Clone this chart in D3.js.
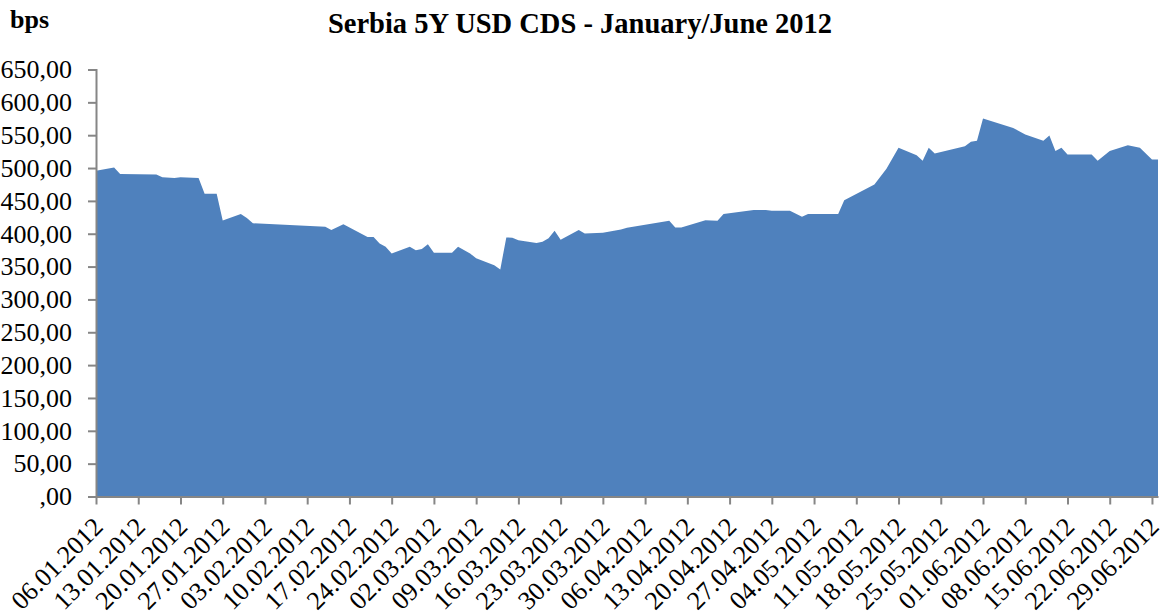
<!DOCTYPE html>
<html>
<head>
<meta charset="utf-8">
<script src="https://cdn.jsdelivr.net/npm/d3@7"></script>
<style>
  body { margin: 0; background: #fff; }
  text { font-family: "Liberation Serif", "Times New Roman", serif; fill: #000; }
</style>
</head>
<body>
<div id="chart"></div>
<script>
//Data (bps)
var dates = ["2012-01-06","2012-01-09","2012-01-10","2012-01-16","2012-01-17","2012-01-19","2012-01-20","2012-01-23","2012-01-24","2012-01-26","2012-01-27","2012-01-30","2012-01-31",
  "2012-02-01","2012-02-13","2012-02-14","2012-02-16","2012-02-20","2012-02-21","2012-02-22","2012-02-23","2012-02-24","2012-02-27","2012-02-28","2012-02-29",
  "2012-03-01","2012-03-02","2012-03-05","2012-03-06","2012-03-08","2012-03-09","2012-03-12","2012-03-13","2012-03-14","2012-03-15","2012-03-16","2012-03-19","2012-03-20","2012-03-21","2012-03-22","2012-03-23","2012-03-26","2012-03-27","2012-03-30",
  "2012-04-02","2012-04-03","2012-04-10","2012-04-11","2012-04-12","2012-04-16","2012-04-18","2012-04-19","2012-04-24","2012-04-26","2012-04-27","2012-04-30",
  "2012-05-02","2012-05-03","2012-05-08","2012-05-09","2012-05-14","2012-05-16","2012-05-18","2012-05-21","2012-05-22","2012-05-23","2012-05-24","2012-05-29","2012-05-30","2012-05-31",
  "2012-06-01","2012-06-06","2012-06-08","2012-06-11","2012-06-12","2012-06-13","2012-06-14","2012-06-15","2012-06-19","2012-06-20","2012-06-22","2012-06-25","2012-06-27","2012-06-29","2012-06-30"];

var values = [496,501,491,490,486,485,486,485,461,461,420,430,424,
  416,410.5,405.5,414.6,395,395,385,380,370,380,375,376.6,
  384,371,371,380,370,362.5,352,345.7,394.4,394,390,386,387.7,393,404.5,391,405.5,400.5,401.5,
  406.6,409,419.7,409.6,409.6,420.7,419.7,430,436,436,435,435,
  425.8,430,430,451,475,499,531,519.6,511,530.7,522,533.3,540,541.4,
  575.5,561,551,541.4,549.6,526,530.7,520.7,520.7,511,526,534.8,530.7,513,513];

//Axis ticks
var yTicks = [0,50,100,150,200,250,300,350,400,450,500,550,600,650];
var xTickLabels = ["06.01.2012","13.01.2012","20.01.2012","27.01.2012","03.02.2012","10.02.2012","17.02.2012","24.02.2012",
  "02.03.2012","09.03.2012","16.03.2012","23.03.2012","30.03.2012","06.04.2012","13.04.2012","20.04.2012","27.04.2012",
  "04.05.2012","11.05.2012","18.05.2012","25.05.2012","01.06.2012","08.06.2012","15.06.2012","22.06.2012","29.06.2012"];

var chartTitle = "Serbia 5Y USD CDS - January/June 2012";
var unitLabel = "bps";

var width = 1164,
    height = 615;
var margin = {top: 69.5, left: 96, right: 6, bottom: 118.5};

var parseDate = d3.timeParse("%Y-%m-%d");
var parseTick = d3.timeParse("%d.%m.%Y");
var fmtTick = d3.timeFormat("%d.%m.%Y");

var data = dates.map(function(d, i) { return {date: parseDate(d), value: values[i]}; });

var svg = d3.select("#chart").append("svg")
    .attr("width", width)
    .attr("height", height);

var x = d3.scaleTime()
    .domain([data[0].date, data[data.length-1].date])
    .range([margin.left, width - margin.right]);

var y = d3.scaleLinear()
    .domain([0, 650])
    .range([height - margin.bottom, margin.top]);

//area
var area = d3.area()
    .x(function(d) { return x(d.date); })
    .y0(y(0))
    .y1(function(d) { return y(d.value); });

svg.append("path")
    .datum(data)
    .attr("d", area)
    .attr("fill", "#4f81bd");

//y axis
var yAxis = d3.axisLeft(y)
    .tickValues(yTicks)
    .tickSize(8)
    .tickPadding(16)
    .tickFormat(function(d) { return d === 0 ? ",00" : d3.format(".2f")(d).replace(".", ","); });

var gy = svg.append("g")
    .attr("transform", "translate(" + margin.left + ",0)")
    .call(yAxis);
gy.select(".domain").attr("stroke", "#868686").attr("stroke-width", 2);
gy.selectAll(".tick line").attr("stroke", "#868686").attr("stroke-width", 2);
gy.selectAll(".tick text")
    .style("font-size", "26px")
    .attr("font-family", null);

//x axis
var xAxis = d3.axisBottom(x)
    .tickValues(xTickLabels.map(function(s) { return parseTick(s); }))
    .tickSize(8)
    .tickSizeOuter(0)
    .tickFormat(fmtTick);

var gx = svg.append("g")
    .attr("transform", "translate(0," + y(0) + ")")
    .call(xAxis);
gx.select(".domain").attr("stroke", "#868686").attr("stroke-width", 2);
gx.selectAll(".tick line").attr("stroke", "#868686").attr("stroke-width", 2);
gx.selectAll(".tick text")
    .style("font-size", "26px")
    .attr("font-family", null)
    .attr("text-anchor", "end")
    .attr("y", 0)
    .attr("dy", "0.7em")
    .attr("transform", "translate(-5,19) rotate(-45)");

//title and unit
svg.append("text")
    .attr("x", 580)
    .attr("y", 33)
    .attr("text-anchor", "middle")
    .style("font-size", "28.5px")
    .style("font-weight", "bold")
    .text(chartTitle);

svg.append("text")
    .attr("x", 10)
    .attr("y", 28)
    .style("font-size", "26px")
    .style("font-weight", "bold")
    .text(unitLabel);
</script>
</body>
</html>
